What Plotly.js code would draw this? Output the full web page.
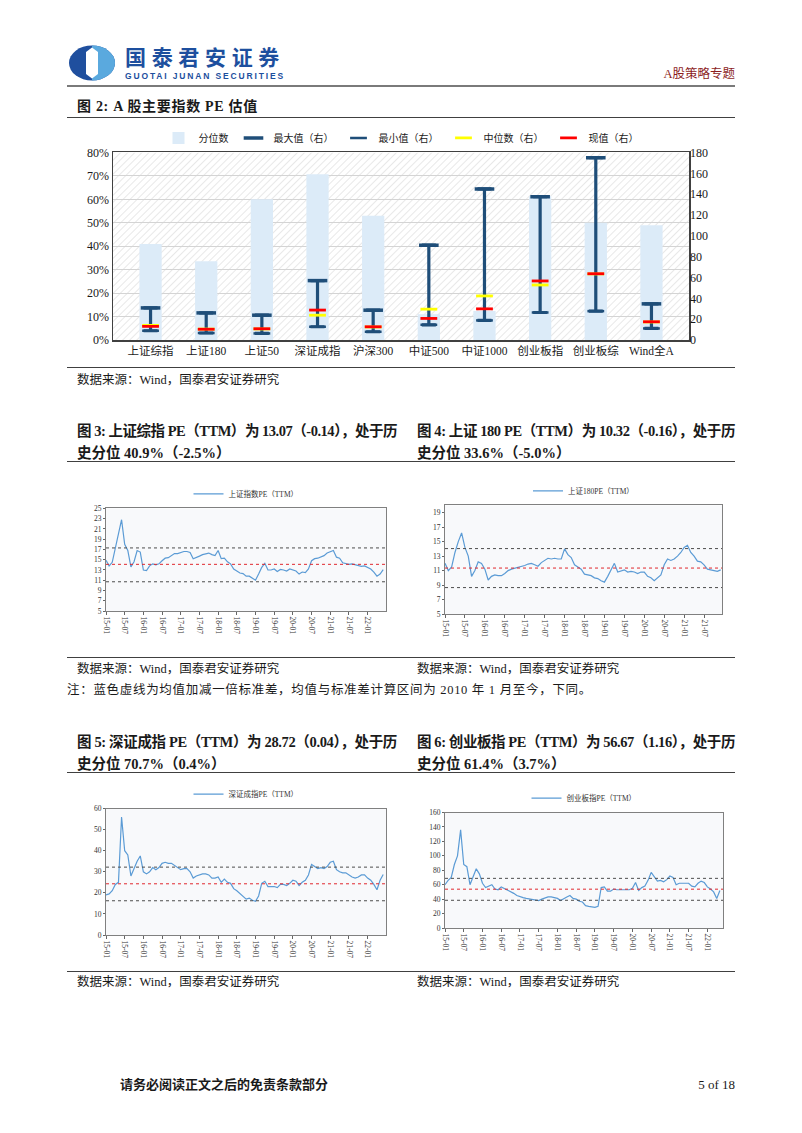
<!DOCTYPE html>
<html lang="zh-CN">
<head>
<meta charset="utf-8">
<title>A股主要指数PE估值</title>
<script src="https://cdn.plot.ly/plotly-3.0.1.min.js"></script>
<style>
html,body{margin:0;padding:0;background:#fff;}
#page{position:relative;width:802px;height:1133px;overflow:hidden;background:#fff;color:#1a1a1a;font-family:"Liberation Serif","Noto Sans CJK SC",serif;}
.t{position:absolute;white-space:nowrap;line-height:1;}
.b{font-weight:bold;}
.rule{position:absolute;left:67px;width:668px;height:0;}
.chart{position:absolute;}
</style>
</head>
<body>
<div id="page">
  <svg style="position:absolute;left:68px;top:45px" width="48" height="36" viewBox="0 0 48 36">
    <ellipse cx="24" cy="18" rx="23" ry="17.5" fill="#1f4f9e"/>
    <path d="M24 0.5 A23 17.5 0 0 1 24 35.5 Z" fill="#5aa9de"/>
    <path d="M24 2.5 L30 7 L30 29 L24 33.5 L18 29 L18 7 Z" fill="#fff"/>
  </svg>
  <div class="t b" id="brand" style="left:125px;top:46px;font-size:21px;color:#1d4f9e;font-family:'Noto Sans CJK SC',sans-serif;">国泰君安证券</div>
  <div class="t b" id="brandEn" style="left:125px;top:72px;font-size:8.5px;color:#1d4f9e;font-family:'Liberation Sans',sans-serif;">GUOTAI JUNAN SECURITIES</div>
  <div class="t" style="right:67px;top:68px;font-size:12.5px;color:#8c1d1d;">A股策略专题</div>
  <div class="rule" style="top:85px;border-top:2px solid #7a7a7a;"></div>

  <div class="t b fitL" data-w="181" style="left:77px;top:100px;font-size:14px;">图 2: A 股主要指数 PE 估值</div>
  <div class="rule" style="top:117px;border-top:1.5px solid #404040;"></div>

  <div id="fig2" class="chart" style="left:70px;top:125px;width:670px;height:240px;"></div>

  <div class="rule" style="top:367px;border-top:1.5px solid #404040;"></div>
  <div class="t src" style="left:77px;top:374px;font-size:12.5px;">数据来源：Wind，国泰君安证券研究</div>

  <div class="t b fitL" data-w="320" style="left:77px;top:424px;font-size:14.5px;">图 3: 上证综指 PE（TTM）为 13.07（-0.14），处于历</div>
  <div class="t b" style="left:77px;top:446px;font-size:14.5px;">史分位 40.9%（-2.5%）</div>
  <div class="t b fitL" data-w="318" style="left:417px;top:424px;font-size:14.5px;">图 4: 上证 180 PE（TTM）为 10.32（-0.16），处于历</div>
  <div class="t b" style="left:417px;top:446px;font-size:14.5px;">史分位 33.6%（-5.0%）</div>
  <div class="rule" style="top:461px;border-top:1.5px solid #404040;"></div>

  <div id="fig3" class="chart" style="left:70px;top:480px;width:330px;height:170px;"></div>
  <div id="fig4" class="chart" style="left:405px;top:476px;width:330px;height:170px;"></div>

  <div class="rule" style="top:657px;border-top:1.5px solid #404040;"></div>
  <div class="t" style="left:77px;top:663px;font-size:12.5px;">数据来源：Wind，国泰君安证券研究</div>
  <div class="t" style="left:417px;top:663px;font-size:12.5px;">数据来源：Wind，国泰君安证券研究</div>
  <div class="t fitL" data-w="525" style="left:67px;top:684px;font-size:12.5px;">注：蓝色虚线为均值加减一倍标准差，均值与标准差计算区间为 2010 年 1 月至今，下同。</div>

  <div class="t b fitL" data-w="320" style="left:77px;top:735px;font-size:14.5px;">图 5: 深证成指 PE（TTM）为 28.72（0.04），处于历</div>
  <div class="t b" style="left:77px;top:757px;font-size:14.5px;">史分位 70.7%（0.4%）</div>
  <div class="t b fitL" data-w="318" style="left:417px;top:735px;font-size:14.5px;">图 6: 创业板指 PE（TTM）为 56.67（1.16），处于历</div>
  <div class="t b" style="left:417px;top:757px;font-size:14.5px;">史分位 61.4%（3.7%）</div>
  <div class="rule" style="top:772px;border-top:1.5px solid #404040;"></div>

  <div id="fig5" class="chart" style="left:70px;top:780px;width:330px;height:185px;"></div>
  <div id="fig6" class="chart" style="left:405px;top:784px;width:330px;height:180px;"></div>

  <div class="rule" style="top:971px;border-top:1.5px solid #404040;"></div>
  <div class="t" style="left:77px;top:976px;font-size:12.5px;">数据来源：Wind，国泰君安证券研究</div>
  <div class="t" style="left:417px;top:976px;font-size:12.5px;">数据来源：Wind，国泰君安证券研究</div>

  <div class="t b" style="left:120px;top:1078px;font-size:13px;">请务必阅读正文之后的免责条款部分</div>
  <div class="t" style="right:67px;top:1078px;font-size:13px;">5 of 18</div>
</div>

<script>
// ---------- Figure 2 data ----------
const categories = ['上证综指','上证180','上证50','深证成指','沪深300','中证500','中证1000','创业板指','创业板综','Wind全A'];
const percentile = [0.409, 0.336, 0.600, 0.707, 0.530, 0.110, 0.124, 0.614, 0.500, 0.490];
const maxPE     = [30.8, 26.0, 23.8, 57.0, 28.6, 91.0, 145.0, 137.5, 175.0, 34.7];
const minPE     = [8.9, 6.7, 6.3, 12.7, 7.9, 14.6, 18.8, 26.4, 27.7, 11.1];
const medianPE  = [14.0, 10.5, 10.6, 23.8, 12.5, 29.6, 42.3, 52.8, 63.4, 17.3];
const currentPE = [13.07, 10.32, 10.8, 28.72, 12.7, 20.7, 29.9, 56.67, 63.6, 17.5];

// ---------- Small chart data (monthly, from 2015-01) ----------
const tickLabels = ['15-01','15-07','16-01','16-07','17-01','17-07','18-01','18-07','19-01','19-07','20-01','20-07','21-01','21-07','22-01'];
const tickLabels4 = ['15-01','15-07','16-01','16-07','17-01','17-07','18-01','18-07','19-01','19-07','20-01','20-07','21-01','21-07'];

const peSH = [14.9,13.8,14.5,17.5,20.3,22.8,18.0,16.8,13.6,14.6,16.8,16.5,
              13.0,12.9,13.8,14.2,14.0,14.2,14.8,15.3,15.4,15.8,16.2,16.2,
              16.4,16.6,16.6,16.4,15.2,15.4,15.7,16.0,16.2,16.3,16.0,15.8,
              16.8,15.2,15.3,14.6,14.2,13.2,12.8,12.4,12.3,11.8,11.8,11.4,
              11.0,12.2,13.5,14.3,13.0,13.0,13.2,12.7,13.1,13.0,12.8,13.2,
              13.0,12.8,12.2,12.6,12.5,13.2,14.8,15.2,15.3,15.5,15.8,16.3,
              16.6,16.8,15.5,15.3,14.4,14.3,14.1,14.2,14.0,13.8,13.7,13.8,
              13.5,13.2,12.6,11.8,12.2,13.07];
const bandSH = [10.7, 14.1, 17.3];

const pe180 = [12.0,11.0,11.5,13.5,15.0,16.2,14.2,13.0,10.2,11.0,12.2,12.0,
               11.2,9.7,10.2,10.4,10.3,10.3,10.6,11.0,11.2,11.3,11.5,11.6,
               11.7,11.9,12.0,11.8,11.6,12.1,12.4,12.7,12.6,12.7,12.6,12.6,
               14.0,13.2,12.8,11.8,11.5,11.2,10.5,10.4,10.3,10.0,9.9,9.6,
               9.4,10.2,11.0,12.0,10.8,11.0,11.1,10.8,10.9,10.8,10.6,10.8,
               10.8,10.2,10.0,9.6,10.0,10.4,11.8,12.6,12.4,12.6,13.0,13.5,
               14.2,14.5,13.5,13.0,12.3,12.2,11.8,11.2,11.1,11.0,10.9,11.1];
const band180 = [8.65, 11.35, 14.04];

const peSZ = [19.0,19.5,21.0,24.0,25.0,56.0,40.0,38.0,28.0,32.0,35.0,37.5,
              30.0,29.0,30.0,32.0,31.0,32.0,34.0,34.5,34.0,34.0,33.0,32.0,
              31.0,31.5,31.5,30.0,27.0,28.0,28.5,29.0,29.0,28.5,27.0,27.0,
              27.5,25.0,26.5,25.0,24.5,22.0,21.0,19.5,18.5,17.0,17.5,16.5,
              16.0,18.5,24.5,25.5,23.0,23.0,23.0,22.5,24.0,24.0,23.5,24.5,
              26.0,25.5,23.5,25.0,26.0,28.5,33.5,32.5,31.5,32.0,31.5,32.5,
              34.5,35.0,31.0,30.0,29.5,29.5,28.5,27.5,27.0,27.5,28.5,28.5,
              27.0,26.0,24.0,21.5,26.0,28.72];
const bandSZ = [16.25, 24.3, 32.2];

const peCYB = [60,66,70,88,100,136,88,85,60,72,82,75,
               62,56,58,60,54,53,57,55,52,50,48,45,
               43,42,41,40,39,38.5,38,40,42,43,43,42,
               41,38,41,43,45,41,40,37,36,31,30,29,
               28.5,30,56,57,51,51,54,53,53,52,52,53,
               55,63,52,56,58,66,77,71,65,66,64,67,
               72,70,60,62,62,61,62,58,57,62,65,63,
               57,54,50,41,52];
const bandCYB = [38.4, 53.8, 68.8];

const FONT = 'Liberation Serif, Noto Sans CJK SC, serif';
const navy = '#1f4e79';
const cfg = {staticPlot:true, displayModeBar:false};

// ---------- Figure 2 ----------
const rangeLen = maxPE.map((v,i)=>v - minPE[i]);
const zeros = maxPE.map(()=>0);
const hatchSvg = '<svg xmlns="http://www.w3.org/2000/svg" width="576" height="189"><defs><pattern id="p" width="5" height="5" patternUnits="userSpaceOnUse" patternTransform="rotate(45)"><line x1="0" y1="0" x2="0" y2="5" stroke="#e2e2e2" stroke-width="1.6"/></pattern></defs><rect width="576" height="189" fill="#ffffff"/><rect width="576" height="189" fill="url(#p)"/></svg>';
const hatch = 'data:image/svg+xml;charset=utf-8,' + encodeURIComponent(hatchSvg);

Plotly.newPlot('fig2', [
  {type:'bar', name:'分位数', x:categories, y:percentile, yaxis:'y', width:0.4,
   marker:{color:'#dcebf8'}},
  {type:'scatter', mode:'markers', name:'最大值（右）', x:categories, y:maxPE, yaxis:'y2',
   marker:{symbol:'line-ew', size:14, color:navy, line:{width:3.5, color:navy}},
   error_y:{type:'data', symmetric:false, array:zeros, arrayminus:rangeLen, width:7, thickness:3.2, color:navy}},
  {type:'scatter', mode:'markers', name:'最小值（右）', x:categories, y:minPE, yaxis:'y2',
   marker:{symbol:'line-ew', size:12, color:navy, line:{width:2.5, color:navy}}},
  {type:'scatter', mode:'markers', name:'中位数（右）', x:categories, y:medianPE, yaxis:'y2',
   marker:{symbol:'line-ew', size:12, color:'#ffff00', line:{width:2.8, color:'#ffff00'}}},
  {type:'scatter', mode:'markers', name:'现值（右）', x:categories, y:currentPE, yaxis:'y2',
   marker:{symbol:'line-ew', size:12, color:'#ff0000', line:{width:2.8, color:'#ff0000'}}}
], {
  width:670, height:240,
  margin:{l:43, r:51, t:26, b:25},
  paper_bgcolor:'rgba(0,0,0,0)', plot_bgcolor:'rgba(0,0,0,0)',
  font:{family:FONT, size:12, color:'#1a1a1a'},
  showlegend:true,
  legend:{orientation:'h', x:0.5, xanchor:'center', yref:'container', y:0.946, yanchor:'middle',
          font:{size:10}, bgcolor:'rgba(0,0,0,0)'},
  xaxis:{type:'category', showline:true, linecolor:'#404040', linewidth:1.5, mirror:true, ticks:'', showgrid:false, tickfont:{size:11.5}},
  yaxis:{range:[0,0.8], dtick:0.1, tickformat:'.0%', showgrid:true, gridcolor:'#d4d4d4', gridwidth:1,
         showline:true, linecolor:'#404040', linewidth:1.5, mirror:true, zeroline:false, ticks:'', tickfont:{size:12}},
  yaxis2:{overlaying:'y', side:'right', range:[0,180], dtick:20, showgrid:false, zeroline:false, showline:false, ticks:'', tickfont:{size:12}},
  images:[{source:hatch, xref:'paper', yref:'paper', x:0, y:1, sizex:1, sizey:1, sizing:'stretch', layer:'below', xanchor:'left', yanchor:'top'}]
}, cfg);

// ---------- Small line charts ----------
function lineChart(id, vals, name, yRange, dtick, band, xEnd, labels, w, h, m, legY){
  const xs = vals.map((v,i)=>i);
  const shapes = band.map((b,k)=>({type:'line', xref:'paper', x0:0, x1:1, yref:'y', y0:b, y1:b,
     line:{color:k===1 ? '#e0282e' : '#4d4d4d', width:1, dash:'dot'}}));
  Plotly.newPlot(id, [
    {type:'scatter', mode:'lines', name:name, x:xs, y:vals, line:{color:'#5b9bd5', width:1.2}}
  ], {
    width:w, height:h, margin:m,
    paper_bgcolor:'rgba(0,0,0,0)', plot_bgcolor:'#f8f9fb',
    font:{family:FONT, size:7.5, color:'#333'},
    showlegend:true,
    legend:{orientation:'h', x:0.5, xanchor:'center', yref:'container', y:legY, yanchor:'middle',
            font:{size:7.5, color:'#333'}, bgcolor:'rgba(0,0,0,0)'},
    xaxis:{range:[0, xEnd], tickvals:labels.map((t,i)=>i*6), ticktext:labels, tickangle:90,
           ticks:'outside', ticklen:3, tickcolor:'#666', showline:true, linecolor:'#808080', linewidth:1,
           mirror:true, showgrid:false, zeroline:false, tickfont:{size:7.5}},
    yaxis:{range:yRange, tick0:yRange[0], dtick:dtick, ticks:'outside', ticklen:2, tickcolor:'#666', showline:true,
           linecolor:'#808080', linewidth:1, mirror:true, showgrid:false, zeroline:false, tickfont:{size:7.5}},
    shapes:shapes
  }, cfg);
}

lineChart('fig3', peSH, '上证指数PE（TTM）', [5,25], 2, bandSH, 89.9, tickLabels, 330, 170, {l:36, r:14, t:22, b:39}, 0.918);
lineChart('fig4', pe180, '上证180PE（TTM）', [5,20], 2, band180, 83.4, tickLabels4, 330, 170, {l:40, r:13, t:22, b:32}, 0.912);
lineChart('fig5', peSZ, '深证成指PE（TTM）', [0,60], 10, bandSZ, 89.9, tickLabels, 330, 185, {l:36, r:14, t:23, b:30}, 0.924);
lineChart('fig6', peCYB, '创业板指PE（TTM）', [0,160], 20, bandCYB, 89, tickLabels, 330, 180, {l:40, r:12, t:23, b:36}, 0.922);

// ---------- fit justified text lines ----------
function fitAll(){
  document.querySelectorAll('.fitL').forEach(el=>{
    el.style.letterSpacing = '0px';
    const w = el.getBoundingClientRect().width;
    const n = el.textContent.length;
    const target = parseFloat(el.dataset.w);
    el.style.letterSpacing = ((target - w) / n) + 'px';
  });
  [['brand',160],['brandEn',160]].forEach(([id,tw])=>{
    const el = document.getElementById(id);
    el.style.letterSpacing = '0px';
    const w = el.getBoundingClientRect().width;
    el.style.letterSpacing = ((tw - w) / el.textContent.length) + 'px';
  });
}
fitAll();
if (document.fonts && document.fonts.ready) document.fonts.ready.then(fitAll);
</script>
</body>
</html>
